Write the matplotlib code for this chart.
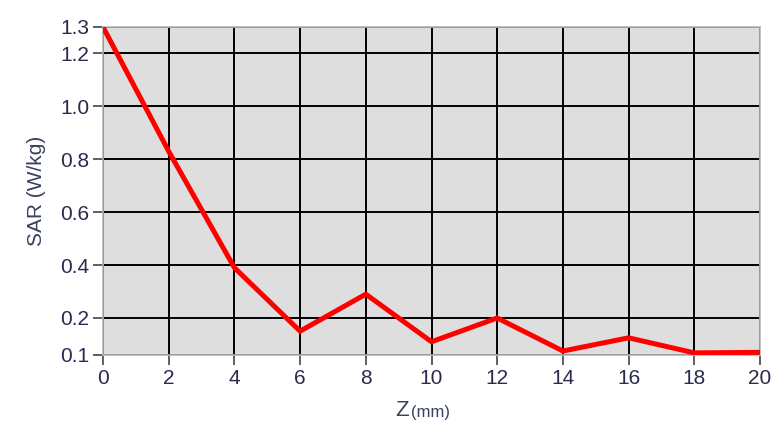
import numpy as np
import matplotlib
matplotlib.use("Agg")
from matplotlib import pyplot as plt

z = [0, 2, 4, 6, 8, 10, 12, 14, 16, 18, 20]
sar = [1.3, 0.83, 0.39, 0.15, 0.29, 0.11, 0.2, 0.075, 0.125, 0.068, 0.07]
xticks = list(range(0, 21, 2))
yticks = [0.06, 0.2, 0.4, 0.6, 0.8, 1.0, 1.2, 1.3]

fam = ['Liberation Sans', 'DejaVu Sans']
tickcol = '#2a2a50'

fig = plt.figure(figsize=(7.83, 4.42), dpi=100)
ax = fig.add_axes([103/783, 1 - 355/442, (760-103)/783, (355-27)/442])
ax.set_facecolor('#dedede')

ax.plot(z, sar, color='#ff0000', lw=3.6, solid_joinstyle='miter', zorder=3)

ax.set_xlim(0, 20)
ax.set_ylim(0.06, 1.3)
ax.set_xticks(xticks)
ax.set_yticks(yticks)
ax.set_xticklabels([str(v) for v in xticks], family=fam, fontsize=15, color=tickcol)
ax.set_yticklabels(['%.1f' % v for v in yticks], family=fam, fontsize=15, color=tickcol)
ax.grid(True, color='black', lw=1.4)
ax.tick_params(axis='both', direction='out', length=7, width=1.2, color='#444444', pad=3)

for s in ax.spines.values():
    s.set_color('#b8b8b8')
    s.set_linewidth(1.2)

ax.set_ylabel('SAR (W/kg)', family=fam, fontsize=15, color='#3a4060', labelpad=10)
fig.text(409/783, 1 - 411/442, 'Z', family=fam, fontsize=16, color='#3a4060', ha='right', va='center')
fig.text(411/783, 1 - 413/442, '(mm)', family=fam, fontsize=12, color='#3a4060', ha='left', va='center')

fig.savefig('out.png', dpi=100)
